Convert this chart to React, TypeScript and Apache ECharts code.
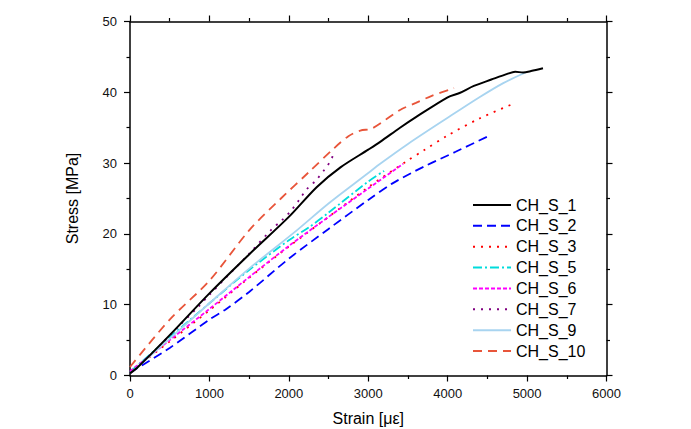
import React, { useEffect, useRef } from "react";
import * as echarts from "echarts";

const names = ["CH_S_1", "CH_S_2", "CH_S_3", "CH_S_5", "CH_S_6", "CH_S_7", "CH_S_9", "CH_S_10"];

const s1: number[][] = [[0,0.3],[100,1.2],[500,5.7],[1000,11.6],[1500,17.1],[2000,22.4],[2350,26.6],[2650,29.4],[3000,31.9],[3150,33.0],[3400,35.0],[3600,36.5],[4000,39.3],[4150,39.9],[4330,40.9],[4550,41.8],[4750,42.6],[4850,42.9],[4950,42.8],[5050,43.0],[5200,43.4]];
const s2: number[][] = [[0,0.4],[500,3.9],[1000,7.9],[1200,9.3],[1500,11.8],[2000,16.5],[2500,20.7],[3000,24.8],[3300,27.1],[3700,29.5],[4100,31.6],[4530,33.9]];
const s3: number[][] = [[0,0.5],[500,4.8],[1000,9.2],[1500,13.8],[2000,18.2],[2500,22.4],[3000,26.6],[3500,30.4],[3700,31.8],[4000,33.9],[4400,36.3],[4830,38.4]];
const s5: number[][] = [[0,0.5],[500,5.4],[1000,10.2],[1500,14.9],[2000,19.1],[2250,20.9],[2500,23.0],[3000,27.4],[3200,28.9]];
const s6: number[][] = [[0,0.6],[500,5.0],[1000,9.4],[1500,13.9],[2000,18.3],[2500,22.4],[3000,26.4],[3440,29.9]];
const s7: number[][] = [[0,0.3],[230,2.6],[600,6.8],[860,9.7],[1000,11.4],[1500,17.2],[1780,20.6],[1910,21.9],[2030,23.3],[2130,24.8],[2225,26.3],[2345,27.6],[2450,29.1],[2540,30.6],[2560,31.8]];
const s9: number[][] = [[0,0.3],[500,5.2],[1000,10.2],[1500,15.1],[2100,20.5],[2500,24.3],[3000,28.6],[3150,29.9],[3500,32.7],[4000,36.4],[4400,39.3],[4700,41.3],[4980,42.8]];
const s10: number[][] = [[0,1.2],[500,7.9],[1000,13.4],[1500,20.5],[1900,25.0],[2250,28.7],[2560,32.0],[2750,33.8],[2900,34.6],[3050,34.9],[3400,37.5],[3600,38.5],[3800,39.5],[4080,40.6]];

const seriesData = [s1, s2, s3, s5, s6, s7, s9, s10];
const colors = ["#000000", "#0000FF", "#FF0000", "#00DCDC", "#FF00FF", "#800080", "#A8D4F0", "#E8553A"];
const dashes: any[] = ["solid", [9, 5], [2, 6], [9, 3, 2, 3], [4, 2], [2, 6], "solid", [9, 6]];

const xTicks = { min: 0, max: 6000, interval: 1000 };
const yTicks = { min: 0, max: 50, interval: 10 };

export default function App() {
  const ref = useRef<HTMLDivElement>(null);
  useEffect(() => {
    if (!ref.current) return;
    const chart = echarts.init(ref.current, null, { renderer: "svg" });
    const axisCommon = {
      axisLine: { show: true, onZero: false, lineStyle: { color: "#000", width: 1.5 } },
      axisTick: { show: true, inside: false, length: 6, lineStyle: { color: "#000", width: 1.2 } },
      minorTick: { show: true, splitNumber: 2, length: 3.5, lineStyle: { color: "#000", width: 1.2 } },
      splitLine: { show: false },
    };
    const fontFamily = "Liberation Sans, Arial, sans-serif";
    chart.setOption({
      animation: false,
      backgroundColor: "#ffffff",
      textStyle: { fontFamily },
      grid: { left: 130, right: 84.5, top: 21.5, bottom: 53.5, containLabel: false, outerBoundsMode: "none" },
      legend: {
        orient: "vertical",
        left: 467,
        top: 192,
        itemWidth: 38,
        itemHeight: 16,
        itemGap: 4.86,
        itemStyle: { opacity: 0 },
        textStyle: { fontSize: 16, color: "#000", fontFamily },
        data: names,
      },
      xAxis: [
        {
          type: "value", ...xTicks, position: "bottom",
          ...axisCommon,
          axisLabel: { fontSize: 13, color: "#111", margin: 11.5, fontFamily, formatter: (v: number) => String(v) },
          name: "Strain [\u03bc\u03b5]", nameLocation: "middle", nameGap: 35,
          nameTextStyle: { fontSize: 16, color: "#000", fontFamily },
        },
        {
          type: "value", ...xTicks, position: "top",
          ...axisCommon,
          axisLabel: { show: false },
        },
      ],
      yAxis: [
        {
          type: "value", ...yTicks, position: "left",
          ...axisCommon,
          axisLabel: { fontSize: 13, color: "#111", margin: 13, fontFamily, formatter: (v: number) => String(v) },
          name: "Stress [MPa]", nameLocation: "middle", nameGap: 50,
          nameTextStyle: { fontSize: 16, color: "#000", fontFamily },
        },
        {
          type: "value", ...yTicks, position: "right",
          ...axisCommon,
          axisLabel: { show: false },
        },
      ],
      series: names.map((n, i) => ({
        name: n,
        type: "line",
        data: seriesData[i],
        xAxisIndex: 0,
        yAxisIndex: 0,
        symbol: "none",
        showSymbol: false,
        smooth: 0.3,
        color: colors[i],
        lineStyle: { color: colors[i], width: i === 0 ? 2 : 1.8, type: dashes[i] },
        z: i === 0 ? 3 : 2,
      })),
    });
    return () => chart.dispose();
  }, []);
  return <div ref={ref} style={{ position: "fixed", left: 0, top: 0, width: 691, height: 429 }} />;
}
